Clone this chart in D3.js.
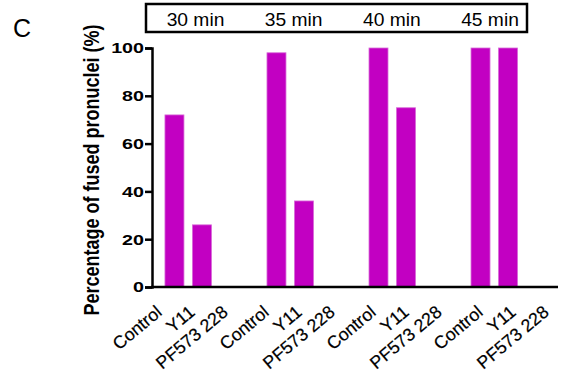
<!DOCTYPE html>
<html>
<head>
<meta charset="utf-8">
<script src="https://cdn.jsdelivr.net/npm/d3@7"></script>
<style>
  body { margin: 0; background: #fff; }
  text { font-family: "Liberation Sans", Arial, sans-serif; fill: #000; }
</style>
</head>
<body>
<script>
// data
var timepoints = ["30 min", "35 min", "40 min", "45 min"];
var treatments = ["Control", "Y11", "PF573 228"];
var fused_30 = [72, 26, 0];
var fused_35 = [98, 36, 0];
var fused_40 = [100, 75, 0];
var fused_45 = [100, 100, 0];
var yTicks = [0, 20, 40, 60, 80, 100];

var seriesByTime = [fused_30, fused_35, fused_40, fused_45];
var rows = [];
timepoints.forEach(function(t, i) {
  treatments.forEach(function(tr, j) {
    rows.push({ time: t, treatment: tr, value: seriesByTime[i][j] });
  });
});

var W = 561, H = 373;
var margin = { top: 48, right: 3, bottom: 86, left: 152 };
// the original figure was stretched sideways, text too
var stretch = 1.19;

var svg = d3.select("body").append("svg")
  .attr("width", W).attr("height", H);

var x0 = d3.scaleBand()
  .domain(timepoints)
  .range([margin.left, W - margin.right])
  .paddingInner(0.2745)
  .paddingOuter(0.127);

var x1 = d3.scaleBand()
  .domain(treatments)
  .range([0, x0.bandwidth()])
  .paddingInner(0.31)
  .paddingOuter(0);

// labels under the axis sit on a slightly wider pitch than the bars
var xLab0 = d3.scalePoint().domain(timepoints).range([163, 484]);
var xLab1 = d3.scalePoint().domain(treatments).range([0, 66]);

var y = d3.scaleLinear()
  .domain([0, 100])
  .range([H - margin.bottom, margin.top]);

// bars
svg.append("g").selectAll("rect")
  .data(rows.filter(function(d) { return d.value > 0; }))
  .enter().append("rect")
  .attr("x", function(d) { return x0(d.time) + x1(d.treatment); })
  .attr("y", function(d) { return y(d.value); })
  .attr("width", x1.bandwidth())
  .attr("height", function(d) { return y(0) - y(d.value); })
  .attr("fill", "#c200c2")
  .attr("stroke", "#d86ad8")
  .attr("stroke-width", 0.8);

// y axis
var yAxis = d3.axisLeft(y).tickValues(yTicks).tickSize(7).tickPadding(2);
var gy = svg.append("g")
  .attr("transform", "translate(" + margin.left + ",0)")
  .call(yAxis);
gy.select(".domain").attr("stroke", "#000").attr("stroke-width", 2.5);
gy.selectAll(".tick line").attr("stroke-width", 2.5);
gy.selectAll(".tick text")
  .attr("x", -8 / 1.27)
  .attr("transform", "scale(1.27,1)")
  .attr("font-size", 15.5).attr("font-weight", "bold")
  .attr("font-family", "Liberation Sans, Arial, sans-serif");

// x axis line
svg.append("line")
  .attr("x1", margin.left - 1).attr("x2", W - margin.right)
  .attr("y1", y(0)).attr("y2", y(0))
  .attr("stroke", "#000").attr("stroke-width", 2.5);

// rotated category labels
svg.append("g").selectAll("text")
  .data(rows)
  .enter().append("text")
  .attr("transform", function(d) {
    var ax = xLab0(d.time) + xLab1(d.treatment);
    return "translate(" + ax + ",314) rotate(-40)";
  })
  .attr("text-anchor", "end")
  .attr("font-size", 17.8)
  .attr("stroke", "#000").attr("stroke-width", 0.2)
  .text(function(d) { return d.treatment; });

// y title
svg.append("text")
  .attr("transform", "translate(99,170) scale(" + stretch + ",1) rotate(-90)")
  .attr("text-anchor", "middle")
  .attr("font-size", 18)
  .attr("font-weight", "bold")
  .text("Percentage of fused pronuclei (%)");

// header box with timepoints
svg.append("rect")
  .attr("x", 146).attr("y", 4)
  .attr("width", 381).attr("height", 28)
  .attr("fill", "none").attr("stroke", "#000").attr("stroke-width", 2.5);

var xh = d3.scalePoint().domain(timepoints).range([195.5, 490]);
svg.append("g").selectAll("text")
  .data(timepoints)
  .enter().append("text")
  .attr("transform", function(d) { return "translate(" + xh(d) + ",26) scale(1.1,1)"; })
  .attr("text-anchor", "middle")
  .attr("font-size", 17.5)
  .text(function(d) { return d; });

// panel letter
svg.append("text")
  .attr("x", 13).attr("y", 37)
  .attr("font-size", 25)
  .text("C");
</script>
</body>
</html>
